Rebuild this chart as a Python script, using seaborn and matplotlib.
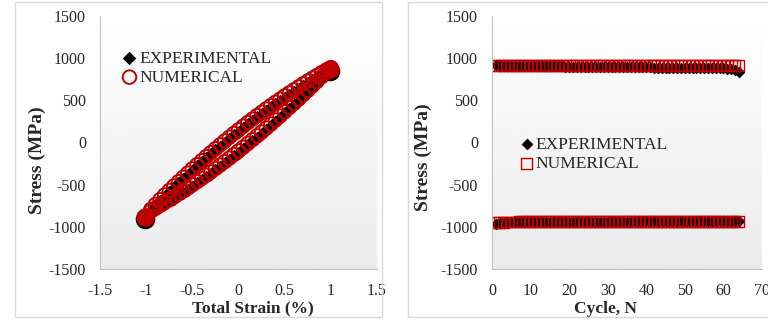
import numpy as np
import pandas as pd
import matplotlib
matplotlib.use("Agg")
import matplotlib.pyplot as plt
import seaborn as sns
from matplotlib.patches import Rectangle
from matplotlib.ticker import MultipleLocator

# ---- hysteresis loop data (Total Strain % vs Stress MPa) ----
strain = [-1.00, -0.95, -0.90, -0.85, -0.80, -0.75, -0.70, -0.65, -0.60, -0.55,
          -0.50, -0.45, -0.40, -0.35, -0.30, -0.25, -0.20, -0.15, -0.10, -0.05,
          0.00, 0.05, 0.10, 0.15, 0.20, 0.25, 0.30, 0.35, 0.40, 0.45,
          0.50, 0.55, 0.60, 0.65, 0.70, 0.75, 0.80, 0.85, 0.90, 0.95, 1.00]

exp_upper = [-890, -815, -755, -698, -644, -590, -538, -485, -434, -384,
             -334, -284, -236, -188, -141, -94, -48, -3, 42, 87,
             130, 173, 216, 257, 298, 338, 379, 418, 456, 494,
             532, 568, 604, 639, 675, 709, 742, 775, 808, 839, 860]
exp_lower = [-890, -840, -803, -768, -733, -699, -665, -629, -594, -558,
             -522, -484, -446, -408, -369, -328, -288, -247, -206, -163,
             -120, -77, -32, 13, 58, 104, 151, 198, 246, 294,
             344, 394, 444, 495, 547, 599, 652, 705, 760, 815, 860]
num_upper = [-875, -795, -735, -678, -623, -569, -516, -465, -414, -364,
             -313, -264, -216, -168, -121, -74, -28, 17, 62, 107,
             150, 193, 236, 277, 318, 358, 399, 438, 476, 514,
             552, 588, 624, 659, 695, 729, 762, 795, 828, 859, 885]
num_lower = [-875, -815, -780, -746, -712, -679, -645, -609, -574, -538,
             -502, -464, -426, -388, -349, -308, -268, -227, -186, -143,
             -100, -57, -12, 33, 78, 124, 171, 218, 266, 314,
             364, 414, 464, 515, 567, 619, 672, 725, 780, 835, 885]

# reversal points where many cycles pile up
tip_strain = [-1.01, 0.99]
tip_exp = [-905, 850]
tip_num = [-885, 870]

# ---- peak stresses per cycle ----
cycles = list(range(1, 65))
exp_max = [915, 912, 910, 909, 908, 908, 907, 907, 906, 906,
           905, 905, 904, 904, 903, 903, 902, 902, 901, 900,
           900, 899, 899, 898, 898, 897, 897, 896, 896, 895,
           895, 894, 894, 893, 893, 892, 892, 891, 891, 890,
           890, 889, 889, 888, 888, 887, 887, 886, 886, 885,
           885, 884, 884, 883, 883, 882, 882, 881, 880, 879,
           877, 874, 862, 835]
exp_min = [-962, -955, -951, -949, -947, -946, -945, -945, -944, -944,
           -943, -943, -943, -942, -942, -942, -941, -941, -941, -940,
           -940, -940, -940, -939, -939, -939, -939, -938, -938, -938,
           -938, -937, -937, -937, -937, -937, -936, -936, -936, -936,
           -936, -935, -935, -935, -935, -935, -935, -934, -934, -934,
           -934, -934, -934, -933, -933, -933, -933, -933, -933, -932,
           -932, -932, -932, -932]
num_max = [918, 918, 917, 917, 917, 917, 917, 916, 916, 916,
           916, 916, 916, 916, 916, 916, 915, 915, 915, 915,
           915, 915, 915, 915, 915, 915, 915, 915, 915, 915,
           915, 915, 915, 915, 915, 915, 915, 915, 915, 915,
           915, 915, 915, 915, 915, 915, 915, 915, 915, 915,
           915, 915, 915, 915, 915, 915, 915, 915, 915, 915,
           915, 915, 915, 915]
num_min = [-945, -944, -944, -943, -943, -943, -942, -942, -942, -942,
           -942, -942, -942, -942, -942, -941, -941, -941, -941, -941,
           -941, -941, -941, -941, -941, -941, -941, -941, -941, -941,
           -941, -941, -941, -941, -941, -941, -941, -941, -941, -941,
           -941, -941, -941, -941, -941, -941, -941, -941, -941, -941,
           -941, -941, -941, -941, -941, -941, -941, -941, -941, -941,
           -941, -941, -941, -941]

RED = "#C00000"
GRID = "#bfbfbf"

sns.set_style("white")
plt.rcParams["font.family"] = ["Liberation Serif", "DejaVu Serif"]
plt.rcParams["axes.unicode_minus"] = False

loop_exp = pd.DataFrame({"strain": strain + strain[::-1],
                         "stress": exp_lower + exp_upper[::-1]})
loop_num = pd.DataFrame({"strain": strain + strain[::-1],
                         "stress": num_lower + num_upper[::-1]})
peaks_exp = pd.DataFrame({"N": cycles + cycles, "stress": exp_max + exp_min})
peaks_num = pd.DataFrame({"N": cycles + cycles, "stress": num_max + num_min})

fig = plt.figure(figsize=(7.68, 3.2), dpi=100)

# panel frames
for x0, w in [(15, 367), (408, 362)]:
    fig.patches.append(Rectangle((x0 / 768, 3 / 320), w / 768, 315 / 320,
                                 transform=fig.transFigure, fill=False,
                                 edgecolor="#d9d9d9", linewidth=1))

ax1 = fig.add_axes([100 / 768, 51 / 320, 277 / 768, 253 / 320])
ax2 = fig.add_axes([492 / 768, 51 / 320, 270 / 768, 253 / 320])

grad = np.linspace(1.0, 0.92, 100).reshape(-1, 1)

sns.scatterplot(data=loop_exp, x="strain", y="stress", marker="D", color="black",
                s=40, edgecolor="black", linewidth=0.5, label="EXPERIMENTAL", ax=ax1)
sns.scatterplot(x=tip_strain, y=tip_exp, marker="o", color="black", s=170,
                edgecolor="black", ax=ax1)
sns.scatterplot(data=loop_num, x="strain", y="stress", marker="o", facecolor="none",
                edgecolor=RED, s=95, linewidth=1.4, label="NUMERICAL", ax=ax1)
sns.scatterplot(x=tip_strain, y=tip_num, marker="o", color=RED, s=150,
                edgecolor=RED, ax=ax1)

sns.scatterplot(data=peaks_exp, x="N", y="stress", marker="D", color="black",
                s=30, edgecolor="black", linewidth=0.5, label="EXPERIMENTAL", ax=ax2)
sns.scatterplot(data=peaks_num, x="N", y="stress", marker="s", facecolor="none",
                edgecolor=RED, s=62, linewidth=1.0, label="NUMERICAL", ax=ax2)

ax1.set_xlim(-1.5, 1.5)
ax1.set_xticks([-1.5, -1, -0.5, 0, 0.5, 1, 1.5])
ax1.set_xticklabels(["-1.5", "-1", "-0.5", "0", "0.5", "1", "1.5"])
ax1.xaxis.set_minor_locator(MultipleLocator(0.1))
ax1.set_xlabel("Total Strain (%)")

ax2.set_xlim(0, 70)
ax2.xaxis.set_major_locator(MultipleLocator(10))
ax2.xaxis.set_minor_locator(MultipleLocator(2))
ax2.set_xlabel("Cycle, N")

for ax in (ax1, ax2):
    ax.imshow(grad, cmap="gray", vmin=0, vmax=1, aspect="auto",
              extent=(*ax.get_xlim(), -1500, 1500), zorder=0)
    ax.set_ylim(-1500, 1500)
    ax.yaxis.set_major_locator(MultipleLocator(500))
    ax.yaxis.set_minor_locator(MultipleLocator(100))
    ax.set_ylabel("Stress (MPa)", fontsize=14, fontweight="bold")
    ax.xaxis.label.set_fontsize(12.5)
    ax.xaxis.label.set_fontweight("bold")
    for side in ("top", "right"):
        ax.spines[side].set_visible(False)
    for side in ("left", "bottom"):
        ax.spines[side].set_color(GRID)
        ax.spines[side].set_linewidth(0.8)
    ax.tick_params(which="both", direction="out", color=GRID, labelsize=11.5,
                   labelcolor="#262626")
    ax.tick_params(which="major", length=4, pad=6)
    ax.tick_params(which="minor", length=2.5)

# Excel-style label placement (not centred on the axes)
ax1.xaxis.set_label_coords(0.552, -0.125)
ax2.xaxis.set_label_coords(0.422, -0.125)
ax1.yaxis.set_label_coords(-0.195, 0.43)
ax2.yaxis.set_label_coords(-0.222, 0.44)

ax1.legend(loc="upper left", bbox_to_anchor=(0.05, 0.89), frameon=False,
           fontsize=12.5, handlelength=1.0, handletextpad=0.1, borderaxespad=0,
           labelspacing=0.15, scatterpoints=1)
ax2.legend(loc="upper left", bbox_to_anchor=(0.07, 0.55), frameon=False,
           fontsize=12.5, handlelength=1.0, handletextpad=0.0, borderaxespad=0,
           labelspacing=0.15, scatterpoints=1)

fig.savefig("out.png", dpi=100)
plt.close(fig)
